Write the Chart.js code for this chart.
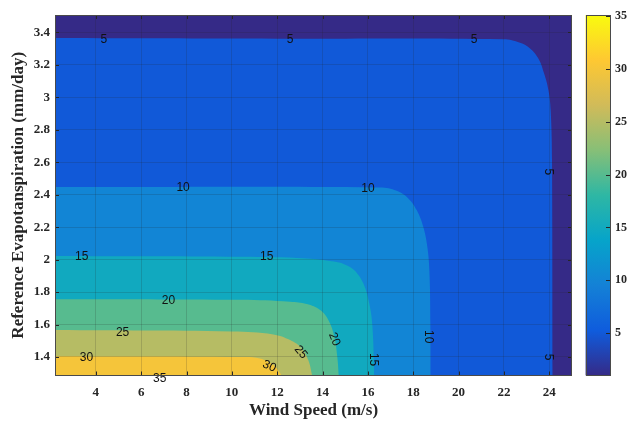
<!DOCTYPE html>
<html>
<head>
<meta charset="utf-8">
<script src="https://cdn.jsdelivr.net/npm/chart.js@4.4.1/dist/chart.umd.min.js"></script>
<style>
  html, body { margin: 0; padding: 0; background: #fff; }
  #wrap { position: relative; width: 634px; height: 421px; overflow: hidden; }
  #c1 { position: absolute; left: 0; top: 0; }
  #c2 { position: absolute; left: 575px; top: 0; }
</style>
</head>
<body>
<div id="wrap">
  <canvas id="c1" width="580" height="421"></canvas>
  <canvas id="c2" width="59" height="421"></canvas>
</div>
<script>
// Axis extents (wind speed in m/s, ET0 in mm/day)
const windMin = 2.2, windMax = 25.0;
const etMin = 1.286, etMax = 3.507;

// Tick positions
const windTicks = [4, 6, 8, 10, 12, 14, 16, 18, 20, 22, 24];
const etTicks = [1.4, 1.6, 1.8, 2.0, 2.2, 2.4, 2.6, 2.8, 3.0, 3.2, 3.4];
const barTicks = [5, 10, 15, 20, 25, 30, 35];

// Colour limits of the contour map
const colorMin = 1, colorMax = 35.1;

// Contour levels and their boundary lines (wind speed, ET0)
const levels = [5, 10, 15, 20, 25, 30];

const contour5Wind = [2.2, 12.0, 21.97, 22.71, 23.15, 23.51, 23.77, 23.96, 24.06, 24.12, 24.15];
const contour5Et   = [3.365, 3.361, 3.357, 3.336, 3.301, 3.24, 3.147, 3.045, 2.92, 2.6, 1.28];

const contour10Wind = [2.2, 16.54, 17.27, 17.78, 18.15, 18.44, 18.62, 18.71, 18.76, 18.77];
const contour10Et   = [2.447, 2.445, 2.424, 2.377, 2.305, 2.202, 2.079, 1.935, 1.6, 1.28];

const contour15Wind = [2.2, 10.4, 13.3, 14.5, 14.95, 15.4, 15.8, 16.06, 16.2, 16.28];
const contour15Et   = [2.022, 2.017, 2.007, 1.988, 1.972, 1.935, 1.853, 1.73, 1.586, 1.28];

const contour20Wind = [2.2, 10.4, 12.57, 13.3, 13.89, 14.26, 14.52, 14.65, 14.72];
const contour20Et   = [1.756, 1.752, 1.740, 1.726, 1.689, 1.627, 1.525, 1.40, 1.28];

const contour25Wind = [2.2, 10.0, 11.83, 12.57, 13.08, 13.37, 13.55];
const contour25Et   = [1.566, 1.557, 1.539, 1.504, 1.453, 1.381, 1.28];

const contour30Wind = [2.2, 10.36, 11.24, 11.83, 12.13, 12.22];
const contour30Et   = [1.405, 1.40, 1.391, 1.35, 1.30, 1.28];

const contourWind = [contour5Wind, contour10Wind, contour15Wind, contour20Wind, contour25Wind, contour30Wind];
const contourEt   = [contour5Et, contour10Et, contour15Et, contour20Et, contour25Et, contour30Et];

// Inline contour labels: level, position and text angle (degrees)
const labelLevel = [5, 5, 5, 5, 5, 10, 10, 10, 15, 15, 15, 20, 20, 25, 25, 30, 30, 35];
const labelWind  = [4.35, 12.57, 20.68, 23.97, 23.97, 7.85, 16.0, 18.65, 3.38, 11.54, 16.23, 7.2, 14.52, 5.18, 13.04, 3.59, 11.65, 6.82];
const labelEt    = [3.357, 3.355, 3.355, 2.54, 1.40, 2.445, 2.435, 1.525, 2.015, 2.015, 1.384, 1.745, 1.509, 1.549, 1.43, 1.395, 1.343, 1.268];
const labelAngle = [0, 0, 0, 90, 90, 0, 0, 90, 0, 0, 90, 0, 68, 0, 50, 0, 25, 0];

// Parula colormap stops
const parula = ['#352a87', '#0f5cdd', '#1481d6', '#06a4ca', '#2eb7a4', '#87bf77', '#d1bb59', '#fec832', '#f9fb0e'];

function hexRgb(h) {
  return [parseInt(h.slice(1, 3), 16), parseInt(h.slice(3, 5), 16), parseInt(h.slice(5, 7), 16)];
}
function parulaAt(t) {
  t = Math.max(0, Math.min(1, t));
  const f = t * (parula.length - 1);
  const i = Math.min(parula.length - 2, Math.floor(f));
  const u = f - i;
  const a = hexRgb(parula[i]), b = hexRgb(parula[i + 1]);
  const c = a.map((v, k) => Math.round(v + (b[k] - v) * u));
  return `rgb(${c[0]},${c[1]},${c[2]})`;
}
function levelColor(v) {
  return parulaAt((v - colorMin) / (colorMax - colorMin));
}

const serif = '"Liberation Serif", "Times New Roman", serif';
const sans = '"Liberation Sans", Arial, Helvetica, sans-serif';
const ink = '#262626';
const gridInk = 'rgba(38,38,38,0.17)';
const tickFont = { family: serif, weight: 'bold', size: 13 };
const titleFont = { family: serif, weight: 'bold', size: 17 };

// Filled bands: lowest band spans the whole domain, each level is laid on top
const bands = [{
  data: [{ x: windMin, y: etMax }, { x: windMax, y: etMax }],
  backgroundColor: levelColor(colorMin)
}];
levels.forEach((lv, i) => {
  bands.push({
    data: contourWind[i].map((w, k) => ({ x: w, y: contourEt[i][k] })),
    backgroundColor: levelColor(lv)
  });
});
// first dataset is painted last, so put the highest level first
const datasets = bands.reverse().map(b => ({
  data: b.data,
  showLine: true,
  fill: 'start',
  backgroundColor: b.backgroundColor,
  borderWidth: 0,
  borderColor: 'rgba(0,0,0,0)',
  pointRadius: 0,
  tension: 0.4
}));

const contourLabels = {
  id: 'contourLabels',
  afterDraw(chart) {
    const { ctx, scales } = chart;
    ctx.save();
    ctx.font = `12px ${sans}`;
    ctx.fillStyle = '#111';
    ctx.textAlign = 'center';
    ctx.textBaseline = 'middle';
    labelLevel.forEach((lv, i) => {
      const px = scales.x.getPixelForValue(labelWind[i]);
      const py = scales.y.getPixelForValue(labelEt[i]);
      ctx.save();
      ctx.translate(px, py);
      ctx.rotate(labelAngle[i] * Math.PI / 180);
      ctx.fillText(String(lv), 0, 0);
      ctx.restore();
    });
    ctx.restore();
  }
};

const axesBox = {
  id: 'axesBox',
  afterDraw(chart) {
    const { ctx, chartArea: a, scales } = chart;
    ctx.save();
    ctx.strokeStyle = ink;
    ctx.lineWidth = 1;
    ctx.beginPath();
    windTicks.forEach(v => {
      const px = Math.round(scales.x.getPixelForValue(v)) + 0.5;
      ctx.moveTo(px, a.bottom); ctx.lineTo(px, a.bottom - 4);
      ctx.moveTo(px, a.top); ctx.lineTo(px, a.top + 4);
    });
    etTicks.forEach(v => {
      const py = Math.round(scales.y.getPixelForValue(v)) + 0.5;
      ctx.moveTo(a.left, py); ctx.lineTo(a.left + 4, py);
      ctx.moveTo(a.right, py); ctx.lineTo(a.right - 4, py);
    });
    ctx.stroke();
    ctx.strokeStyle = '#4a4a4a';
    ctx.strokeRect(Math.round(a.left) + 0.5, Math.round(a.top) + 0.5, Math.round(a.width) - 1, Math.round(a.height) - 1);
    ctx.restore();
  }
};

new Chart(document.getElementById('c1'), {
  type: 'scatter',
  data: { datasets },
  options: {
    responsive: false,
    animation: false,
    layout: { padding: { left: 0, top: 15, right: 8, bottom: 0 } },
    plugins: { legend: { display: false }, tooltip: { enabled: false } },
    scales: {
      x: {
        type: 'linear', min: windMin, max: windMax,
        afterBuildTicks: s => { s.ticks = windTicks.map(v => ({ value: v })); },
        afterFit: s => { s.height = 45.5; },
        grid: { color: gridInk, drawTicks: false, z: 1 },
        border: { display: false },
        ticks: { padding: 9, color: ink, font: tickFont, maxRotation: 0, autoSkip: false, callback: v => String(v) },
        title: { display: true, text: 'Wind Speed (m/s)', color: ink, font: titleFont, padding: { top: 0, bottom: 0 } }
      },
      y: {
        type: 'linear', min: etMin, max: etMax,
        afterBuildTicks: s => { s.ticks = etTicks.map(v => ({ value: v })); },
        afterFit: s => { s.width = 55; },
        grid: { color: gridInk, drawTicks: false, z: 1 },
        border: { display: false },
        ticks: { padding: 5, color: ink, font: tickFont, autoSkip: false, callback: v => String(Number(v.toFixed(1))) },
        title: { display: true, text: 'Reference Evapotanspiration (mm/day)', color: ink, font: titleFont, padding: { top: 8, bottom: 0 } }
      }
    }
  },
  plugins: [contourLabels, axesBox]
});

// Colour bar
const barBox = {
  id: 'barBox',
  afterDraw(chart) {
    const { ctx, chartArea: a, scales } = chart;
    ctx.save();
    ctx.strokeStyle = ink;
    ctx.lineWidth = 1;
    ctx.beginPath();
    barTicks.forEach(v => {
      const py = Math.round(scales.y.getPixelForValue(v)) + 0.5;
      ctx.moveTo(a.right, py); ctx.lineTo(a.right - 4, py);
    });
    ctx.stroke();
    ctx.strokeStyle = '#4a4a4a';
    ctx.strokeRect(Math.round(a.left) + 0.5, Math.round(a.top) + 0.5, Math.round(a.width) - 1, Math.round(a.height) - 1);
    ctx.restore();
  }
};

new Chart(document.getElementById('c2'), {
  type: 'bar',
  data: {
    labels: [''],
    datasets: [{
      data: [[colorMin, colorMax]],
      barPercentage: 1,
      categoryPercentage: 1,
      borderWidth: 0,
      backgroundColor: (c) => {
        const chart = c.chart;
        if (!chart.chartArea) return parula[0];
        const ys = chart.scales.y;
        const g = chart.ctx.createLinearGradient(0, ys.getPixelForValue(colorMin), 0, ys.getPixelForValue(colorMax));
        parula.forEach((col, i) => g.addColorStop(i / (parula.length - 1), col));
        return g;
      }
    }]
  },
  options: {
    responsive: false,
    animation: false,
    layout: { padding: { left: 10.5, top: 15, right: 0, bottom: 45.5 } },
    plugins: { legend: { display: false }, tooltip: { enabled: false } },
    scales: {
      x: { display: false },
      y: {
        position: 'right', min: colorMin, max: colorMax,
        afterBuildTicks: s => { s.ticks = barTicks.map(v => ({ value: v })); },
        afterFit: s => { s.width = 24; },
        grid: { display: false, drawTicks: false },
        border: { display: false },
        ticks: { padding: 5, color: ink, font: { family: serif, weight: 'bold', size: 12 }, callback: v => String(v) }
      }
    }
  },
  plugins: [barBox]
});
</script>
</body>
</html>
